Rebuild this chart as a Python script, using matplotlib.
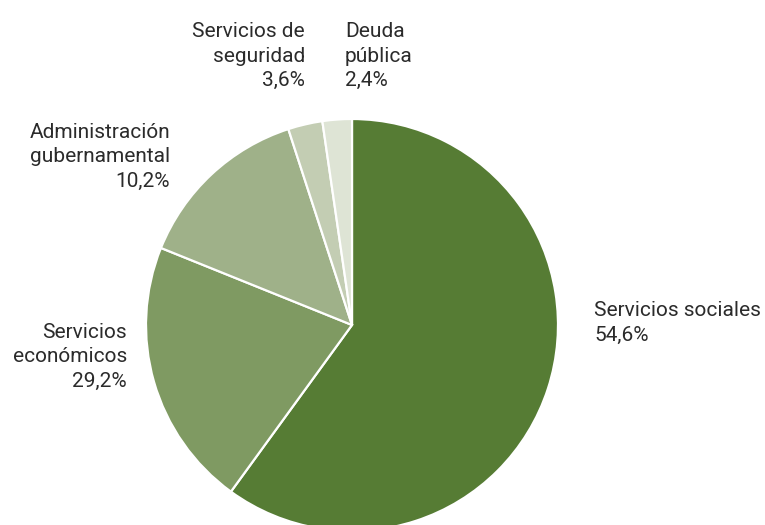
import matplotlib
matplotlib.use("Agg")
import matplotlib.pyplot as plt

plt.rcParams["font.family"] = ["Roboto", "DejaVu Sans"]

# slice sizes as drawn (share of the circle), and the printed labels
categories = ["Servicios sociales", "Servicios\neconómicos", "Administración\ngubernamental",
              "Servicios de\nseguridad", "Deuda\npública"]
slice_share = [60.0, 21.1, 13.9, 2.7, 2.3]
label_pct = ["54,6%", "29,2%", "10,2%", "3,6%", "2,4%"]
colors = ["#567c34", "#7f9a62", "#9fb189", "#c3cdb3", "#dee4d5"]

W, H = 765, 525
fig = plt.figure(figsize=(W / 100, H / 100), dpi=100)

cx, cy, r = 352, 325, 206
ax = fig.add_axes([(cx - r) / W, (H - cy - r) / H, 2 * r / W, 2 * r / H])
ax.pie(slice_share, colors=colors, startangle=90, counterclock=False, radius=1,
       wedgeprops=dict(edgecolor="white", linewidth=1.6))
ax.set_xlim(-1, 1)
ax.set_ylim(-1, 1)
ax.set_aspect("equal")
ax.axis("off")

# label anchor (px from top-left), alignment
pos = [(594, 323, "left"), (127, 357, "right"), (170, 157, "right"),
       (305, 56, "right"), (345, 56, "left")]
for cat, pct, (x, y, ha) in zip(categories, label_pct, pos):
    fig.text(x / W, 1 - y / H, f"{cat}\n{pct}", ha=ha, va="center",
             multialignment=ha, fontsize=15, color="#2b2b2b", linespacing=1.38)

fig.savefig("out.png", dpi=100)
